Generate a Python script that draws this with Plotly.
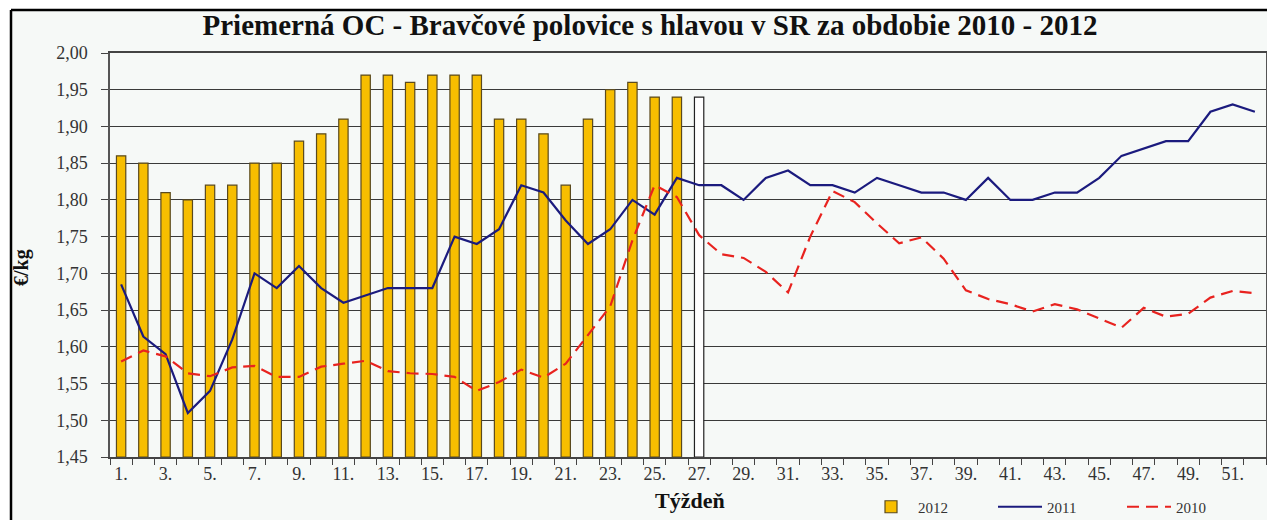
import plotly.graph_objects as go

weeks = list(range(1, 53))
tick_weeks = list(range(1, 52, 2))
tick_labels = [f"{w}." for w in tick_weeks]

bars_2012 = [1.86, 1.85, 1.81, 1.80, 1.82, 1.82, 1.85, 1.85, 1.88, 1.89,
             1.91, 1.97, 1.97, 1.96, 1.97, 1.97, 1.97, 1.91, 1.91, 1.89,
             1.82, 1.91, 1.95, 1.96, 1.94, 1.94, 1.94]

line_2011 = [1.685, 1.614, 1.59, 1.51, 1.54, 1.61, 1.70, 1.68, 1.71, 1.68,
             1.66, 1.67, 1.68, 1.68, 1.68, 1.75, 1.74, 1.76, 1.82, 1.81,
             1.772, 1.74, 1.76, 1.80, 1.78, 1.83, 1.82, 1.82, 1.80, 1.83,
             1.84, 1.82, 1.82, 1.81, 1.83, 1.82, 1.81, 1.81, 1.80, 1.83,
             1.80, 1.80, 1.81, 1.81, 1.83, 1.86, 1.87, 1.88, 1.88, 1.92,
             1.93, 1.92]

line_2010 = [1.58, 1.595, 1.587, 1.564, 1.56, 1.572, 1.574, 1.559, 1.559, 1.573,
             1.577, 1.581, 1.567, 1.564, 1.563, 1.559, 1.54, 1.552, 1.569, 1.558,
             1.577, 1.616, 1.655, 1.745, 1.82, 1.804, 1.752, 1.726, 1.721, 1.702,
             1.674, 1.75, 1.812, 1.797, 1.768, 1.741, 1.749, 1.72, 1.677, 1.665,
             1.658, 1.648, 1.658, 1.651, 1.639, 1.626, 1.653, 1.641, 1.645, 1.667,
             1.676, 1.673]

bar_fill = ["#F7BE00"] * 26 + ["#FFFFFF"]
bar_edge = ["#5a4a1e"] * 26 + ["#222222"]

serif = "Liberation Serif, Times New Roman, serif"
bg = "#f6f9f7"

# page body has an 8px margin: build the figure 8px smaller and shift all targets
OFF = 8
W, H = 1275 - OFF, 531 - OFF
L, R, T, B = 110 - OFF, 1266 - OFF, 53 - OFF, 457 - OFF
pw, ph = R - L, B - T


def px(x_ref):
    return (x_ref - OFF - L) / pw


def py(y_ref):
    return (B - (y_ref - OFF)) / ph


fig = go.Figure()
fig.add_trace(go.Bar(
    x=weeks[:len(bars_2012)], y=[v - 1.45 for v in bars_2012], base=1.45,
    name="2012", width=0.42,
    marker=dict(color=bar_fill, line=dict(color=bar_edge, width=1.2)),
))
fig.add_trace(go.Scatter(
    x=weeks, y=line_2011, name="2011", mode="lines",
    line=dict(color="#1b1b7e", width=2.2),
))
fig.add_trace(go.Scatter(
    x=weeks, y=line_2010, name="2010", mode="lines",
    line=dict(color="#e8231f", width=2.2, dash="12px,7px"),
))

fig.update_layout(
    width=W, height=H,
    margin=dict(l=L, r=W - R, t=T, b=H - B, autoexpand=False),
    paper_bgcolor="white",
    plot_bgcolor="rgba(0,0,0,0)",
    separators=", ",
    title=dict(
        text="<b>Priemerná OC - Bravčové polovice s hlavou v SR za obdobie 2010 - 2012</b>",
        x=(650 - OFF) / W, xref="container", y=1 - (25 - OFF) / H, yref="container",
        xanchor="center", yanchor="middle",
        font=dict(family=serif, size=29, color="#111111"),
    ),
    showlegend=True,
    legend=dict(
        orientation="h", x=(864 - OFF) / W, y=1 - (507 - OFF) / H,
        xref="container", yref="container",
        xanchor="left", yanchor="middle",
        font=dict(family=serif, size=15, color="#333333"),
        bgcolor="rgba(0,0,0,0)", entrywidth=70, entrywidthmode="pixels",
        itemwidth=44, traceorder="normal",
    ),
    shapes=[
        dict(type="rect", xref="paper", yref="paper",
             x0=px(11), x1=px(1270), y0=py(520), y1=py(10),
             fillcolor=bg, line=dict(width=0), layer="below"),
        dict(type="line", xref="paper", yref="paper",
             x0=px(11), x1=px(1270), y0=py(10), y1=py(10),
             line=dict(color="black", width=2.5)),
        dict(type="line", xref="paper", yref="paper",
             x0=px(11), x1=px(11), y0=py(10), y1=py(520),
             line=dict(color="black", width=2.5)),
    ],
    annotations=[
        dict(text="<b>Týždeň</b>", xref="paper", yref="paper", x=px(690), y=py(500),
             xanchor="center", yanchor="middle", showarrow=False,
             font=dict(family=serif, size=22, color="#111111")),
        dict(text="<b>€/kg</b>", xref="paper", yref="paper", x=px(21), y=py(268),
             xanchor="center", yanchor="middle", showarrow=False, textangle=-90,
             font=dict(family=serif, size=20, color="#111111")),
    ],
)

fig.update_xaxes(
    range=[0.5, 52.5], tickmode="array", tickvals=tick_weeks, ticktext=tick_labels,
    ticks="", showgrid=False, zeroline=False,
    showline=True, linecolor="#444444", linewidth=1.5, mirror=True,
    tickfont=dict(family=serif, size=18, color="#333333"),
    minor=dict(ticks="outside", tick0=0.5, dtick=1, ticklen=6, tickcolor="#444444",
               tickwidth=1.3, showgrid=False),
)
fig.update_yaxes(
    range=[1.45, 2.0], dtick=0.05, tick0=1.45, tickformat=".2f",
    ticks="outside", ticklen=7, tickcolor="#444444", tickwidth=1.3,
    showgrid=True, gridcolor="#3a3a3a", gridwidth=1.3, zeroline=False,
    showline=True, linecolor="#555555", linewidth=1.5, mirror=True,
    tickfont=dict(family=serif, size=18, color="#333333"),
    ticklabelstandoff=10,
)

fig.write_html("out.html")
